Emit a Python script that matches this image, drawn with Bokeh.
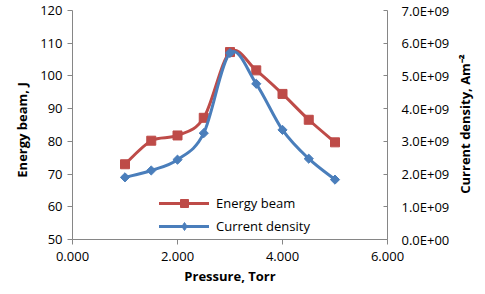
import math
from bokeh.plotting import figure
from bokeh.models import (Range1d, LinearAxis, FixedTicker, NumeralTickFormatter,
                          CustomJSTickFormatter, Legend, LegendItem, ColumnDataSource)
from bokeh.embed import file_html
from bokeh.resources import INLINE

# ---- data ----
pressure = [1.0, 1.5, 2.0, 2.5, 3.0, 3.5, 4.0, 4.5, 5.0]
energy_beam = [73.0, 80.2, 81.8, 87.2, 107.3, 101.7, 94.5, 86.6, 79.7]
current_density = [1.90e9, 2.11e9, 2.44e9, 3.25e9, 5.70e9, 4.76e9, 3.35e9, 2.47e9, 1.83e9]

x_ticks = [0, 2, 4, 6]
left_ticks = [50, 60, 70, 80, 90, 100, 110, 120]
right_ticks = [0, 1e9, 2e9, 3e9, 4e9, 5e9, 6e9, 7e9]

series_names = ["Energy beam", "Current density"]
x_label = "Pressure, Torr"
left_label = "Energy beam, J"
right_label = "Current density, Am\u207b\u00b2"

RED = "#BE4B48"
BLUE = "#4A7EBB"
AXIS = "#868686"
FONT = "Open Sans"


def smooth_segments(xs, ys):
    """Bezier segments (Excel-like smoothing) built from the data points."""
    n = len(xs)
    d = dict(x0=[], y0=[], x1=[], y1=[], cx0=[], cy0=[], cx1=[], cy1=[])
    for i in range(n - 1):
        p0 = (xs[i - 1], ys[i - 1]) if i > 0 else (xs[i], ys[i])
        p1 = (xs[i], ys[i])
        p2 = (xs[i + 1], ys[i + 1])
        p3 = (xs[i + 2], ys[i + 2]) if i + 2 < n else p2
        d["x0"].append(p1[0]); d["y0"].append(p1[1])
        d["x1"].append(p2[0]); d["y1"].append(p2[1])
        d["cx0"].append(p1[0] + (p2[0] - p0[0]) / 6.0)
        d["cy0"].append(p1[1] + (p2[1] - p0[1]) / 6.0)
        d["cx1"].append(p2[0] - (p3[0] - p1[0]) / 6.0)
        d["cy1"].append(p2[1] - (p3[1] - p1[1]) / 6.0)
    return ColumnDataSource(d)


p = figure(width=485, height=294, output_backend="svg", toolbar_location=None,
           x_range=Range1d(0, 6), y_range=Range1d(50, 120))
p.min_border_left = 70
p.min_border_right = 94
p.min_border_top = 10
p.min_border_bottom = 55
p.outline_line_color = None
p.xgrid.grid_line_color = None
p.ygrid.grid_line_color = None
p.background_fill_color = "white"

p.extra_y_ranges = {"cd": Range1d(0, 7e9)}

# energy beam
bez_e = p.bezier(x0="x0", y0="y0", x1="x1", y1="y1", cx0="cx0", cy0="cy0",
                 cx1="cx1", cy1="cy1", source=smooth_segments(pressure, energy_beam),
                 line_color=RED, line_width=3, line_cap="round")
sc_e = p.scatter(pressure, energy_beam, marker="square", size=9,
                 fill_color=RED, line_color=RED)

# current density
bez_c = p.bezier(x0="x0", y0="y0", x1="x1", y1="y1", cx0="cx0", cy0="cy0",
                 cx1="cx1", cy1="cy1", source=smooth_segments(pressure, current_density),
                 line_color=BLUE, line_width=3, line_cap="round", y_range_name="cd")
sc_c = p.scatter(pressure, current_density, marker="square", angle=math.pi / 4, size=6.5,
                 fill_color=BLUE, line_color=BLUE, y_range_name="cd")
# diamond used only for the legend swatch
sc_c_leg = p.scatter(pressure, current_density, marker="diamond", size=10,
                     fill_color=BLUE, line_color=BLUE, y_range_name="cd", visible=False)


def style_axis(ax):
    ax.axis_line_color = AXIS
    ax.major_tick_line_color = AXIS
    ax.minor_tick_line_color = None
    ax.major_label_text_font = FONT
    ax.major_label_text_font_size = "13px"
    ax.major_label_text_color = "#000000"
    ax.axis_label_text_font = FONT
    ax.axis_label_text_font_size = "13px"
    ax.axis_label_text_font_style = "bold"
    ax.axis_label_text_color = "#000000"


def title_axis(ax):
    """An axis that only carries a title (no line, ticks or tick labels)."""
    style_axis(ax)
    ax.axis_line_color = None
    ax.major_tick_line_color = None
    ax.major_tick_in = 0
    ax.major_tick_out = 0
    ax.major_label_standoff = 0


AXIS_PROPS = LinearAxis.properties()
CAN_ALIGN = "axis_label_orientation" in AXIS_PROPS and "axis_label_align" in AXIS_PROPS

# bottom axis
xa = p.xaxis[0]
style_axis(xa)
xa.ticker = FixedTicker(ticks=x_ticks)
xa.formatter = NumeralTickFormatter(format="0.000")
xa.major_tick_out = 5
xa.major_tick_in = 0
xa.major_label_standoff = 7
xa.axis_label = x_label
xa.axis_label_standoff = 3

# left axis
ya = p.yaxis[0]
style_axis(ya)
ya.ticker = FixedTicker(ticks=left_ticks)
ya.major_tick_out = 5
ya.major_tick_in = 0
ya.major_label_standoff = 5

if CAN_ALIGN:
    # left title carrier: anchored at the top, pushed down with fixed-width spaces
    ya_t = LinearAxis(ticker=FixedTicker(ticks=[]))
    title_axis(ya_t)
    ya_t.axis_label_orientation = math.pi / 2
    ya_t.axis_label_align = "end"
    ya_t.axis_label = left_label + "\u2003\u2003\u2003\u2003\u2003\u00a0\u00a0"
    ya_t.axis_label_standoff = 16
    p.add_layout(ya_t, "left")
else:
    ya.axis_label = left_label
    ya.axis_label_standoff = 4

# right axis
ra = LinearAxis(y_range_name="cd", ticker=FixedTicker(ticks=right_ticks))
style_axis(ra)
ra.formatter = CustomJSTickFormatter(code="""
const s = tick.toExponential(1);
const parts = s.split('e');
const sign = parts[1][0];
let d = parts[1].slice(1);
if (d.length < 2) { d = '0' + d; }
return parts[0] + 'E' + sign + d;
""")
ra.major_tick_out = 0
ra.major_tick_in = 4
ra.major_label_standoff = 14
p.add_layout(ra, "right")

# right title carrier, text reading bottom to top
ra_t = LinearAxis(y_range_name="cd", ticker=FixedTicker(ticks=[]))
title_axis(ra_t)
ra_t.axis_label_standoff = 12
if CAN_ALIGN:
    # anchored at the bottom of the axis; lifted with fixed-width spaces
    ra_t.axis_label_orientation = math.pi / 2
    ra_t.axis_label_align = "start"
    ra_t.axis_label = "\u2003\u2003\u2003\u00a0\u00a0" + right_label
else:
    ra_t.axis_label = right_label
p.add_layout(ra_t, "right")

legend = Legend(items=[LegendItem(label=series_names[0], renderers=[bez_e, sc_e]),
                       LegendItem(label=series_names[1], renderers=[bez_c, sc_c_leg])],
                location=(87, 3))
legend.glyph_width = 50
legend.glyph_height = 20
legend.label_height = 20
legend.label_standoff = 7
legend.spacing = 3
legend.padding = 0
legend.margin = 0
legend.border_line_alpha = 0
legend.background_fill_alpha = 0
legend.inactive_fill_alpha = 0
legend.label_text_font = FONT
legend.label_text_font_size = "13px"
legend.label_text_color = "#000000"
p.add_layout(legend, "center")

open("out.html", "w").write(file_html(p, INLINE))
